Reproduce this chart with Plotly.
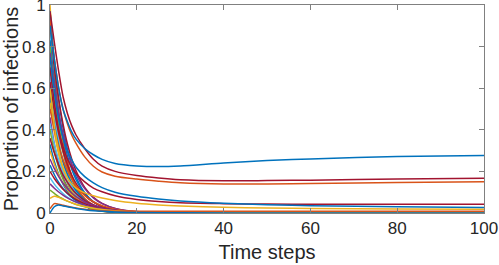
import plotly.graph_objects as go

# ---- data ----
t_main = [0, 1, 2, 3, 4, 5, 6, 8, 10, 12, 15, 20, 25, 30, 40, 50, 60, 80, 100]

top_blue   = [0.90, 0.74, 0.60, 0.50, 0.44, 0.39, 0.355, 0.31, 0.28, 0.258, 0.238, 0.226, 0.223, 0.226, 0.240, 0.252, 0.260, 0.272, 0.277]
top_red    = [0.97, 0.82, 0.68, 0.56, 0.48, 0.42, 0.375, 0.31, 0.258, 0.225, 0.200, 0.180, 0.168, 0.160, 0.155, 0.156, 0.158, 0.163, 0.167]
top_orange = [0.90, 0.74, 0.60, 0.50, 0.43, 0.375, 0.335, 0.27, 0.225, 0.197, 0.177, 0.163, 0.153, 0.145, 0.139, 0.140, 0.142, 0.147, 0.150]
low_blue   = [0.75, 0.58, 0.45, 0.36, 0.30, 0.255, 0.22, 0.175, 0.145, 0.122, 0.100, 0.080, 0.067, 0.058, 0.047, 0.040, 0.035, 0.030, 0.027]
low_red    = [0.70, 0.53, 0.40, 0.32, 0.26, 0.22, 0.19, 0.15, 0.12, 0.102, 0.083, 0.065, 0.055, 0.049, 0.045, 0.043, 0.042, 0.042, 0.042]
low_yellow = [0.60, 0.42, 0.30, 0.22, 0.17, 0.14, 0.12, 0.097, 0.083, 0.072, 0.060, 0.047, 0.039, 0.034, 0.028, 0.024, 0.022, 0.019, 0.018]

t_bulk = [0, 1, 2, 3, 4, 5, 6, 8, 10, 12, 15, 20, 30, 50, 100]

bulk_curves = [
    [1.00, .700, .490, .343, .240, .168, .118, .058, .028, .014, .005, .001, 0, 0, 0],
    [.97, .728, .546, .409, .307, .230, .173, .097, .054, .031, .013, .003, 0, 0, 0],
    [.93, .670, .482, .347, .250, .179, .129, .067, .034, .018, .007, .001, 0, 0, 0],
    [.90, .702, .547, .428, .333, .260, .203, .123, .075, .046, .022, .006, .001, 0, 0],
    [.86, .602, .421, .295, .206, .144, .101, .050, .024, .012, .004, .001, 0, 0, 0],
    [.83, .631, .480, .364, .277, .211, .160, .092, .053, .031, .013, .003, 0, 0, 0],
    [.80, .584, .426, .311, .227, .166, .121, .065, .034, .018, .007, .001, 0, 0, 0],
    [.77, .608, .480, .380, .300, .237, .187, .117, .073, .045, .022, .007, .001, 0, 0],
    [.73, .511, .358, .250, .175, .123, .086, .042, .020, .010, .003, .001, 0, 0, 0],
    [.70, .525, .394, .295, .221, .166, .125, .070, .039, .022, .009, .002, 0, 0, 0],
    [.66, .475, .342, .246, .178, .127, .092, .048, .024, .013, .005, .001, 0, 0, 0],
    [.63, .491, .383, .299, .233, .182, .142, .086, .052, .032, .015, .004, 0, 0, 0],
    [.60, .420, .294, .206, .144, .101, .071, .035, .017, .008, .003, 0, 0, 0, 0],
    [.56, .426, .324, .246, .187, .142, .108, .062, .036, .021, .009, .002, 0, 0, 0],
    [.53, .387, .282, .206, .151, .110, .080, .043, .023, .012, .005, .001, 0, 0, 0],
    [.50, .400, .320, .256, .205, .164, .131, .084, .054, .035, .018, .006, .001, 0, 0],
    [.46, .331, .238, .172, .124, .089, .064, .033, .017, .009, .003, .001, 0, 0, 0],
    [.43, .331, .255, .196, .151, .117, .090, .053, .031, .018, .009, .002, 0, 0, 0],
    [.40, .296, .219, .162, .120, .089, .066, .036, .020, .011, .004, .001, 0, 0, 0],
    [.36, .288, .230, .184, .148, .118, .094, .060, .039, .025, .013, .004, 0, 0, 0],
    [.33, .248, .186, .139, .104, .078, .059, .033, .018, .011, .004, .001, 0, 0, 0],
    [.30, .234, .182, .142, .111, .087, .068, .041, .025, .015, .007, .002, 0, 0, 0],
    [.26, .213, .175, .143, .118, .096, .079, .053, .036, .024, .013, .005, .001, 0, 0],
    [.23, .184, .147, .118, .094, .075, .060, .039, .025, .016, .008, .003, 0, 0, 0],
    [.20, .166, .138, .114, .095, .079, .065, .045, .031, .021, .012, .005, .001, 0, 0],
    [.17, .139, .114, .094, .077, .063, .052, .035, .023, .016, .009, .003, 0, 0, 0],
    [.14, .119, .101, .086, .073, .062, .053, .038, .028, .020, .012, .005, .001, 0, 0],
    [.11, .094, .079, .068, .057, .049, .041, .030, .022, .016, .010, .004, .001, 0, 0],
    [.07, .080, .075, .066, .057, .049, .042, .031, .023, .017, .011, .006, .004, .003, .003],
    [.02, .045, .042, .037, .032, .028, .024, .018, .014, .011, .009, .008, .008, .008, .008],
    [0.0, .030, .038, .034, .030, .026, .022, .016, .011, .008, .005, .002, .001, 0, 0],
]

bulk_colors = [
    "#EDB120", "#0072BD", "#D95319", "#A2142F", "#4DBEEE", "#0072BD", "#77AC30",
    "#7E2F8E", "#EDB120", "#D95319", "#4DBEEE", "#A2142F", "#77AC30", "#0072BD",
    "#EDB120", "#D95319", "#7E2F8E", "#4DBEEE", "#77AC30", "#A2142F", "#0072BD",
    "#EDB120", "#7E2F8E", "#0072BD", "#A2142F", "#4DBEEE", "#7E2F8E", "#77AC30",
    "#EDB120", "#D95319", "#0072BD",
]

x_ticks = [0, 20, 40, 60, 80, 100]
y_ticks = [0, 0.2, 0.4, 0.6, 0.8, 1]
y_tick_labels = ["0", "0.2", "0.4", "0.6", "0.8", "1"]

# ---- figure ----
fig = go.Figure()

for vals, col in zip(bulk_curves, bulk_colors):
    fig.add_trace(go.Scatter(x=t_bulk, y=vals, mode="lines",
                             line=dict(color=col, width=1.5, shape="spline", smoothing=0.8),
                             showlegend=False, hoverinfo="skip"))

main = [(low_yellow, "#EDB120"), (low_red, "#A2142F"), (low_blue, "#0072BD"),
        (top_orange, "#D95319"), (top_red, "#A2142F"), (top_blue, "#0072BD")]
for vals, col in main:
    fig.add_trace(go.Scatter(x=t_main, y=vals, mode="lines",
                             line=dict(color=col, width=1.5, shape="spline", smoothing=0.8),
                             showlegend=False, hoverinfo="skip"))

FONT = "Liberation Sans, Arial, sans-serif"
axis_common = dict(
    showgrid=False, zeroline=False, showline=True, linecolor="#808080", linewidth=1,
    mirror="ticks", ticks="inside", ticklen=5, tickcolor="#808080", automargin=False,
    ticklabeloverflow="allow",
    tickfont=dict(family=FONT, size=17, color="#262626"),
)

fig.update_xaxes(range=[0, 100], tickvals=x_ticks,
                 title=dict(text="Time steps", font=dict(family=FONT, size=20, color="#262626"), standoff=7),
                 **axis_common)
fig.update_yaxes(range=[0, 1], tickvals=y_ticks, ticktext=y_tick_labels,
                 title=dict(text="Proportion of infections", font=dict(family=FONT, size=20, color="#262626"), standoff=4),
                 **axis_common)

fig.update_layout(width=499, height=265, margin=dict(l=50, r=15, t=5, b=52, autoexpand=False),
                  paper_bgcolor="white", plot_bgcolor="white")

fig.write_html("out.html", config={"displayModeBar": False},
               post_script="document.body.style.margin='0';document.body.style.padding='0';")
